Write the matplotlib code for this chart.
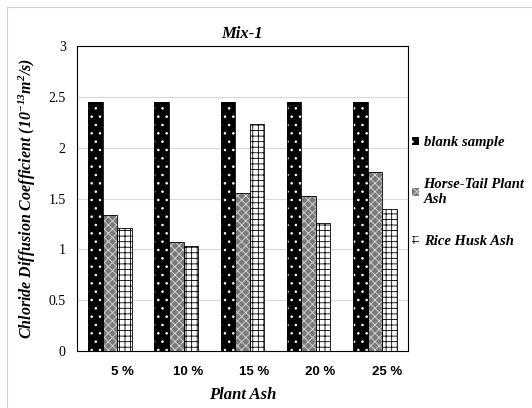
import matplotlib
matplotlib.use("Agg")
import matplotlib.pyplot as plt
import numpy as np
from matplotlib.patches import Patch

# data
categories = ["5 %", "10 %", "15 %", "20 %", "25 %"]
series_names = ["blank sample", "Horse-Tail Plant\nAsh", "Rice Husk Ash"]
blank_sample = [2.45, 2.45, 2.45, 2.45, 2.45]
horse_tail = [1.34, 1.07, 1.55, 1.52, 1.76]
rice_husk = [1.21, 1.03, 2.23, 1.26, 1.40]

SERIF = ["Liberation Serif", "DejaVu Serif"]
plt.rcParams["hatch.linewidth"] = 0.6
plt.rcParams["mathtext.default"] = "regular"


def main():
    fig = plt.figure(figsize=(5.32, 4.08), dpi=100)
    ax = fig.add_axes([0.1447, 0.1397, 0.622, 0.7475])

    x = np.arange(len(categories))
    w = 0.22
    styles = [
        dict(color="black", hatch="..", hcol="white"),
        dict(color="#7a7a7a", hatch="xxxx", hcol="#d8d8d8"),
        dict(color="white", hatch="+++", hcol="black"),
    ]
    values = [blank_sample, horse_tail, rice_husk]
    for i, (vals, st) in enumerate(zip(values, styles)):
        pos = x + (i - 1) * w
        ax.bar(pos, vals, w, color=st["color"], hatch=st["hatch"],
               edgecolor=st["hcol"], linewidth=0, zorder=2)
        ax.bar(pos, vals, w, fill=False, edgecolor="black",
               linewidth=0.6, zorder=3)

    ax.set_xlim(-0.5, len(categories) - 0.5)
    ax.set_ylim(0, 3)
    ax.set_yticks(np.arange(0, 3.01, 0.5))
    ax.set_yticklabels(["0", "0.5", "1", "1.5", "2", "2.5", "3"],
                       family=SERIF, fontsize=10)
    ax.yaxis.grid(True, color="#d9d9d9", lw=0.8, zorder=0)
    ax.set_axisbelow(True)
    ax.tick_params(length=0, pad=8)
    ax.set_xticks(x + 0.18)
    ax.set_xticklabels(categories, fontweight="bold", fontsize=9.5,
                       family=["Liberation Sans", "DejaVu Sans"])
    ax.tick_params(axis="x", pad=11)
    for sp in ax.spines.values():
        sp.set_color("black")
        sp.set_linewidth(0.8)

    ax.set_title("Mix-1", family=SERIF, fontsize=12, fontweight="bold",
                 style="italic", pad=6)
    ax.set_xlabel("Plant Ash", family=SERIF, fontsize=12, fontweight="bold",
                  style="italic", labelpad=6)
    ax.set_ylabel("Chloride Diffusion Coefficient (10$^{-13}$m$^{2}$/s)",
                  family=SERIF, fontsize=11.5, fontweight="bold",
                  style="italic", labelpad=8)

    handles = [Patch(facecolor=st["color"], hatch=st["hatch"],
                     edgecolor=st["hcol"], linewidth=0) for st in styles]
    ax.legend(handles, series_names, loc="upper left",
              bbox_to_anchor=(1.012, 0.705), frameon=False,
              prop=dict(family=SERIF, size=10.5, weight="bold", style="italic"),
              handlelength=0.5, handleheight=0.5, handletextpad=0.3,
              labelspacing=2.0, borderaxespad=0, borderpad=0)

    # light outer border
    fig.add_artist(plt.Line2D([7 / 532, 7 / 532], [0, 1 - 7 / 408],
                              color="#d0d0d0", lw=0.8))
    fig.add_artist(plt.Line2D([7 / 532, 1], [1 - 7 / 408, 1 - 7 / 408],
                              color="#d0d0d0", lw=0.8))

    fig.savefig("out.png", dpi=100)
    plt.close(fig)


if __name__ == "__main__":
    main()
